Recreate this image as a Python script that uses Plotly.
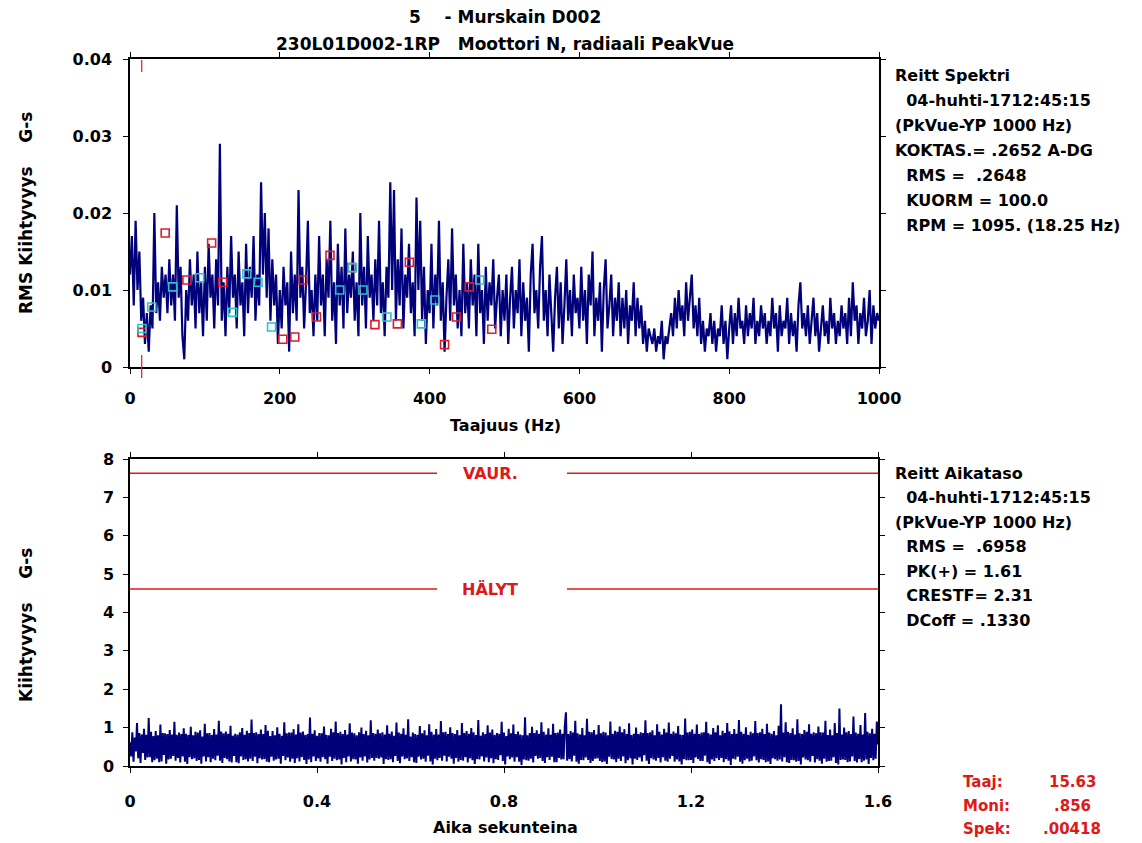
import numpy as np
import plotly.graph_objects as go

# ---------------- data ----------------
# Spectrum (G-s RMS), 2.5 Hz spacing, 0..1000 Hz
spec_vals = [
    0.012, 0.017, 0.008, 0.019, 0.010, 0.015, 0.006, 0.009, 0.003, 0.007, 0.002, 0.008, 0.005, 0.020, 0.007, 0.011, 0.006, 0.013, 0.009, 0.012,
    0.007, 0.014, 0.008, 0.012, 0.006, 0.021, 0.009, 0.013, 0.004, 0.001, 0.010, 0.006, 0.014, 0.008, 0.012, 0.005, 0.015, 0.007, 0.011, 0.004,
    0.013, 0.006, 0.016, 0.009, 0.012, 0.005, 0.014, 0.008, 0.029, 0.006, 0.011, 0.004, 0.013, 0.007, 0.017, 0.009, 0.012, 0.005, 0.015, 0.008,
    0.011, 0.004, 0.016, 0.007, 0.013, 0.009, 0.017, 0.006, 0.012, 0.008, 0.024, 0.012, 0.020, 0.009, 0.018, 0.006, 0.014, 0.008, 0.012, 0.003,
    0.010, 0.005, 0.013, 0.008, 0.011, 0.002, 0.015, 0.007, 0.012, 0.006, 0.023, 0.009, 0.013, 0.005, 0.011, 0.019, 0.007, 0.010, 0.004, 0.012,
    0.006, 0.017, 0.008, 0.012, 0.004, 0.014, 0.009, 0.019, 0.006, 0.011, 0.003, 0.016, 0.008, 0.013, 0.005, 0.018, 0.007, 0.012, 0.009, 0.015,
    0.006, 0.011, 0.004, 0.020, 0.008, 0.013, 0.005, 0.017, 0.009, 0.012, 0.006, 0.014, 0.008, 0.019, 0.007, 0.011, 0.004, 0.013, 0.009, 0.024,
    0.010, 0.023, 0.006, 0.014, 0.008, 0.018, 0.005, 0.012, 0.009, 0.016, 0.007, 0.011, 0.004, 0.022, 0.010, 0.019, 0.006, 0.013, 0.003, 0.010,
    0.007, 0.016, 0.005, 0.012, 0.008, 0.019, 0.006, 0.011, 0.002, 0.009, 0.014, 0.006, 0.018, 0.008, 0.012, 0.005, 0.010, 0.004, 0.016, 0.007,
    0.011, 0.005, 0.014, 0.008, 0.012, 0.004, 0.016, 0.007, 0.010, 0.003, 0.013, 0.006, 0.011, 0.008, 0.014, 0.005, 0.009, 0.012, 0.004, 0.010,
    0.006, 0.012, 0.003, 0.009, 0.013, 0.005, 0.010, 0.007, 0.014, 0.004, 0.011, 0.006, 0.009, 0.002, 0.012, 0.016, 0.007, 0.010, 0.005, 0.013,
    0.017, 0.006, 0.010, 0.004, 0.012, 0.007, 0.002, 0.009, 0.013, 0.005, 0.011, 0.003, 0.008, 0.014, 0.006, 0.010, 0.004, 0.012, 0.007, 0.009,
    0.005, 0.013, 0.006, 0.010, 0.003, 0.012, 0.008, 0.015, 0.004, 0.009, 0.006, 0.011, 0.002, 0.010, 0.014, 0.005, 0.008, 0.012, 0.004, 0.009,
    0.006, 0.011, 0.004, 0.009, 0.005, 0.010, 0.003, 0.008, 0.006, 0.011, 0.004, 0.009, 0.005, 0.008, 0.003, 0.006, 0.002, 0.005, 0.004, 0.003,
    0.005, 0.002, 0.004, 0.003, 0.006, 0.001, 0.004, 0.003, 0.005, 0.007, 0.004, 0.009, 0.005, 0.010, 0.006, 0.008, 0.004, 0.011, 0.006, 0.009,
    0.012, 0.005, 0.008, 0.004, 0.009, 0.003, 0.006, 0.002, 0.005, 0.004, 0.007, 0.003, 0.006, 0.002, 0.005, 0.004, 0.008, 0.003, 0.006, 0.001,
    0.005, 0.008, 0.003, 0.007, 0.004, 0.009, 0.005, 0.006, 0.003, 0.008, 0.004, 0.007, 0.005, 0.009, 0.003, 0.006, 0.004, 0.008, 0.005, 0.007,
    0.003, 0.006, 0.004, 0.009, 0.005, 0.007, 0.002, 0.008, 0.004, 0.006, 0.005, 0.009, 0.003, 0.007, 0.004, 0.006, 0.002, 0.008, 0.011, 0.005,
    0.007, 0.004, 0.008, 0.003, 0.006, 0.009, 0.004, 0.007, 0.002, 0.005, 0.008, 0.004, 0.006, 0.003, 0.009, 0.005, 0.007, 0.003, 0.006, 0.004,
    0.008, 0.005, 0.007, 0.003, 0.009, 0.004, 0.011, 0.006, 0.008, 0.003, 0.007, 0.005, 0.009, 0.004, 0.006, 0.010, 0.003, 0.008, 0.005, 0.007,
    0.006,
]
spec_step_hz = 2.5

# Fault-frequency markers on the spectrum (Hz, G-s)
red_mark_hz = [16, 47, 76, 109, 124, 204, 220, 231, 249, 267, 296, 327, 357, 373, 420, 436, 453, 483]
red_mark_val = [0.0045, 0.0174, 0.0113, 0.0161, 0.0110, 0.0036, 0.0039, 0.0113, 0.0065, 0.0145, 0.0129,
                0.0055, 0.0056, 0.0136, 0.0029, 0.0065, 0.0104, 0.0049]
cyan_mark_hz = [16, 29, 57, 93, 137, 156, 171, 189, 280, 297, 311, 343, 389, 407, 467]
cyan_mark_val = [0.0050, 0.0078, 0.0104, 0.0116, 0.0071, 0.0121, 0.0110, 0.0052, 0.0100, 0.0129, 0.0100,
                 0.0065, 0.0056, 0.0087, 0.0113]

# Waveform (G-s), 2.5 ms spacing, 0..1.6 s
wave_vals = [
    0.62,0.25,0.88,0.11,0.74,0.38,1.12,0.20,0.86,0.08,0.82,0.34,0.97,0.16,0.81,0.22,1.25,0.23,0.89,0.10,
    0.78,0.15,0.91,0.19,0.80,0.10,1.08,0.12,0.86,0.29,0.85,0.06,0.83,0.17,0.94,0.19,0.82,0.26,1.15,0.14,
    0.81,0.21,0.87,0.09,0.83,0.25,0.98,0.11,0.84,0.05,0.81,0.23,1.02,0.18,0.80,0.20,0.89,0.13,0.87,0.16,
    0.93,0.06,0.77,0.25,1.10,0.12,0.85,0.23,0.86,0.10,0.81,0.19,0.96,0.15,0.82,0.27,1.18,0.14,0.90,0.08,
    0.85,0.21,0.90,0.18,0.84,0.12,1.05,0.09,0.79,0.26,0.84,0.10,0.82,0.07,0.88,0.25,0.99,0.16,0.81,0.18,
    0.92,0.12,0.86,0.19,1.21,0.13,0.86,0.24,0.88,0.07,0.83,0.20,0.95,0.17,0.83,0.18,1.07,0.11,0.92,0.10,
    0.78,0.24,0.91,0.14,0.80,0.17,1.01,0.19,0.84,0.06,0.79,0.26,1.14,0.15,0.85,0.22,0.87,0.11,0.87,0.19,
    0.96,0.08,0.82,0.20,1.09,0.12,0.87,0.23,0.90,0.16,0.81,0.05,0.83,0.17,1.26,0.10,0.84,0.25,0.93,0.13,
    0.79,0.20,0.86,0.11,0.85,0.23,1.03,0.18,0.81,0.06,0.80,0.24,0.97,0.13,0.88,0.19,1.16,0.15,0.86,0.17,
    0.89,0.04,0.83,0.21,0.94,0.10,0.82,0.25,1.11,0.12,0.87,0.18,0.85,0.17,0.80,0.06,0.88,0.22,1.00,0.14,
    0.83,0.25,0.92,0.09,0.80,0.17,1.19,0.21,0.86,0.14,0.84,0.21,0.95,0.19,0.85,0.22,0.88,0.05,0.82,0.18,
    1.06,0.16,0.84,0.18,0.90,0.10,0.79,0.26,1.13,0.13,0.87,0.07,0.84,0.25,0.98,0.18,0.81,0.20,1.22,0.13,
    0.77,0.23,0.87,0.10,0.83,0.08,0.81,0.24,1.04,0.17,0.85,0.19,0.93,0.11,0.80,0.27,1.09,0.12,0.89,0.04,
    0.82,0.19,0.96,0.15,0.82,0.21,1.17,0.14,0.88,0.27,0.89,0.12,0.83,0.24,1.01,0.19,0.86,0.06,0.83,0.21,
    0.94,0.11,0.80,0.16,1.12,0.14,0.86,0.23,0.91,0.09,0.84,0.20,0.99,0.15,0.88,0.05,0.81,0.18,1.20,0.17,
    0.79,0.25,0.88,0.12,0.83,0.22,1.06,0.10,0.87,0.20,0.95,0.07,0.81,0.18,0.86,0.16,0.84,0.28,1.15,0.13,
    0.87,0.04,0.78,0.25,0.97,0.18,0.85,0.22,1.08,0.11,0.83,0.23,0.90,0.11,0.82,0.03,0.80,0.17,1.27,0.15,
    0.80,0.14,0.86,0.19,1.02,0.09,0.86,0.26,0.93,0.19,0.84,0.21,1.14,0.13,0.89,0.08,0.82,0.23,0.98,0.16,
    0.81,0.24,1.10,0.10,0.86,0.10,0.87,0.21,0.95,0.17,0.84,0.18,1.05,1.40,0.14,0.83,0.18,0.91,0.12,0.87,
    0.27,1.18,0.11,0.85,0.06,0.82,0.16,0.99,0.15,0.80,0.22,1.23,0.16,0.89,0.08,0.88,0.13,0.94,0.19,0.82,
    0.20,1.07,0.13,0.85,0.10,0.89,0.12,0.87,0.05,0.80,0.24,1.16,0.18,0.84,0.17,0.92,0.10,0.89,0.19,1.03,
    0.13,0.88,0.25,0.96,0.07,0.83,0.15,1.11,0.20,0.81,0.04,0.84,0.19,1.00,0.16,0.83,0.22,0.88,0.12,0.86,
    0.28,1.19,0.14,0.86,0.05,0.88,0.20,0.93,0.17,0.80,0.14,1.09,0.21,0.89,0.09,0.82,0.23,0.97,0.14,0.87,
    0.11,1.13,0.19,0.84,0.26,0.90,0.11,0.85,0.17,1.04,0.12,0.82,0.04,0.81,0.18,1.24,0.15,0.87,0.15,0.89,
    0.16,0.95,0.08,0.84,0.22,1.08,0.18,0.83,0.13,0.87,0.13,0.88,0.27,1.15,0.10,0.85,0.05,0.82,0.17,0.99,
    0.13,0.88,0.20,1.06,0.16,0.80,0.21,0.92,0.10,0.86,0.18,1.12,0.14,0.90,0.03,0.83,0.19,0.96,0.17,0.84,
    0.24,1.20,0.11,0.89,0.06,0.84,0.15,1.01,0.19,0.81,0.12,0.89,0.14,0.85,0.25,1.17,0.15,0.86,0.09,0.88,
    0.18,0.97,0.16,0.83,0.10,1.10,0.12,0.87,0.05,0.84,0.20,0.91,0.18,0.80,0.14,1.05,0.17,1.61,0.12,0.87,
    0.23,1.14,0.10,0.89,0.08,0.86,0.16,0.98,0.15,0.82,0.11,1.22,0.13,0.85,0.04,0.83,0.22,0.94,0.17,0.89,
    0.15,1.09,0.11,0.84,0.26,0.88,0.09,0.85,0.18,1.03,0.14,0.88,0.06,0.87,0.19,1.18,0.11,0.81,0.13,0.95,
    0.14,0.80,0.23,1.12,0.08,0.86,0.04,1.50,0.16,0.82,0.17,1.00,0.16,0.88,0.10,0.91,0.12,0.83,0.25,1.29,
    0.13,0.87,0.09,0.84,0.18,1.07,0.10,0.82,0.14,1.38,0.17,0.89,0.05,0.85,0.21,0.97,0.15,0.84,0.19,1.16,
    0.56,
]
wave_step_s = 0.0025

alarm_levels = [7.63, 4.61]
alarm_names = ["VAUR.", "HÄLYT"]
cursor_hz = 15.63

spec_x_ticks = [0, 200, 400, 600, 800, 1000]
spec_y_ticks = [0, 0.01, 0.02, 0.03, 0.04]
spec_y_labels = ["0", "0.01", "0.02", "0.03", "0.04"]
wave_x_ticks = [0, 0.4, 0.8, 1.2, 1.6]
wave_x_labels = ["0", "0.4", "0.8", "1.2", "1.6"]
wave_y_ticks = [0, 1, 2, 3, 4, 5, 6, 7, 8]

spec_info = ["Reitt Spektri", "\u00a0\u00a004-huhti-1712:45:15", "(PkVue-YP 1000 Hz)",
             "KOKTAS.= .2652 A-DG", "\u00a0\u00a0RMS =\u00a0\u00a0.2648", "\u00a0\u00a0KUORM = 100.0",
             "\u00a0\u00a0RPM = 1095. (18.25 Hz)"]
wave_info = ["Reitt Aikataso", "\u00a0\u00a004-huhti-1712:45:15", "(PkVue-YP 1000 Hz)",
             "\u00a0\u00a0RMS =\u00a0\u00a0.6958", "\u00a0\u00a0PK(+) = 1.61", "\u00a0\u00a0CRESTF= 2.31",
             "\u00a0\u00a0DCoff = .1330"]
cursor_labels = ["Taaj:", "Moni:", "Spek:"]
cursor_values = ["15.63", ".856", ".00418"]

# ---------------- layout helpers (pixel -> paper) ----------------
W, H = 1142, 843
L, R, T, B = 130, 879, 59, 766
def px(x):
    return (x - L) / (R - L)
def py(y):
    return (B - y) / (B - T)

FONT = "DejaVu Sans"
NAVY = "#00007a"
RED = "#e01818"

spec_x = np.arange(len(spec_vals)) * spec_step_hz
wave_x = np.arange(len(wave_vals)) * wave_step_s

fig = go.Figure()
fig.add_trace(go.Scatter(x=spec_x, y=spec_vals, mode="lines",
                         line=dict(color=NAVY, width=2.2, simplify=False), xaxis="x", yaxis="y",
                         showlegend=False, hoverinfo="skip"))
fig.add_trace(go.Scatter(x=red_mark_hz, y=red_mark_val, mode="markers",
                         marker=dict(symbol="square-open", size=8, color="#d81e2a",
                                     line=dict(width=1.6, color="#d81e2a")),
                         xaxis="x", yaxis="y", showlegend=False))
fig.add_trace(go.Scatter(x=cyan_mark_hz, y=cyan_mark_val, mode="markers",
                         marker=dict(symbol="square-open", size=8, color="#2cc4c4",
                                     line=dict(width=1.6, color="#2cc4c4")),
                         xaxis="x", yaxis="y", showlegend=False))
fig.add_trace(go.Scatter(x=wave_x, y=wave_vals, mode="lines",
                         line=dict(color=NAVY, width=2.0, simplify=False), xaxis="x2", yaxis="y2",
                         showlegend=False, hoverinfo="skip"))

shapes = []
# alarm lines with a gap for the label
gap_l = (437 - L) / 467.5
gap_r = (567 - L) / 467.5
for lvl in alarm_levels:
    shapes.append(dict(type="line", xref="x2", yref="y2", x0=0, x1=gap_l, y0=lvl, y1=lvl,
                       line=dict(color=RED, width=1.5)))
    shapes.append(dict(type="line", xref="x2", yref="y2", x0=gap_r, x1=1.6, y0=lvl, y1=lvl,
                       line=dict(color=RED, width=1.5)))
# cursor marks
shapes.append(dict(type="line", xref="x", yref="paper", x0=cursor_hz, x1=cursor_hz,
                   y0=py(60), y1=py(72), line=dict(color=RED, width=1.2)))
shapes.append(dict(type="line", xref="x", yref="paper", x0=cursor_hz, x1=cursor_hz,
                   y0=py(355), y1=py(378), line=dict(color=RED, width=1.2)))

ann = []
def text(x, y, s, size=16, color="black", xanchor="left", angle=0):
    ann.append(dict(x=px(x), y=py(y), xref="paper", yref="paper", text=s, showarrow=False,
                    xanchor=xanchor, yanchor="middle", textangle=angle,
                    font=dict(family=FONT, size=size, color=color, weight="bold")))

text(505, 17, "5\u00a0\u00a0\u00a0\u00a0- Murskain D002", size=17, xanchor="center")
text(505, 44, "230L01D002-1RP\u00a0\u00a0\u00a0Moottori N, radiaali PeakVue", size=17, xanchor="center")
text(505, 425, "Taajuus (Hz)", xanchor="center")
text(505, 827, "Aika sekunteina", xanchor="center")
text(26, 213, "RMS Kiihtyvyys\u00a0\u00a0\u00a0\u00a0G-s", size=17, xanchor="center", angle=-90)
text(26, 625, "Kiihtyvyys\u00a0\u00a0\u00a0\u00a0G-s", size=17, xanchor="center", angle=-90)

for i, s in enumerate(spec_info):
    text(893, 75 + 25 * i, s, size=16)
for i, s in enumerate(wave_info):
    text(893, 473 + 24.5 * i, s, size=16)
for i, (a, b) in enumerate(zip(cursor_labels, cursor_values)):
    text(961, 782 + 23.5 * i, a, size=15, color=RED)
    text(1072, 782 + 23.5 * i, b, size=15, color=RED, xanchor="center")

for name, lvl in zip(alarm_names, alarm_levels):
    ann.append(dict(x=(490 - L) / 467.5, y=lvl, xref="x2", yref="y2", text=name, showarrow=False,
                    xanchor="center", yanchor="middle",
                    font=dict(family=FONT, size=16, color=RED, weight="bold")))

axis_common = dict(showline=True, linecolor="black", linewidth=1.5, mirror="ticks",
                   ticks="outside", ticklen=5, tickwidth=1.3, tickcolor="black",
                   showgrid=False, zeroline=False,
                   tickfont=dict(family=FONT, size=16, color="black", weight="bold"))

fig.update_layout(
    width=W, height=H,
    margin=dict(l=L, r=W - R, t=T, b=H - B),
    paper_bgcolor="white", plot_bgcolor="white",
    xaxis=dict(domain=[0, 1], range=[0, 1000], tickvals=spec_x_ticks, anchor="y",
               ticklabelstandoff=11, **axis_common),
    yaxis=dict(domain=[py(367), 1], range=[0, 0.04], tickvals=spec_y_ticks, ticktext=spec_y_labels,
               anchor="x", ticklabelstandoff=8, **axis_common),
    xaxis2=dict(domain=[0, px(878)], range=[0, 1.6], tickvals=wave_x_ticks, ticktext=wave_x_labels,
                anchor="y2", ticklabelstandoff=15, **axis_common),
    yaxis2=dict(domain=[0, py(459)], range=[0, 8], tickvals=wave_y_ticks, anchor="x2",
                ticklabelstandoff=6, **axis_common),
    shapes=shapes, annotations=ann,
)

fig.write_html("out.html")
